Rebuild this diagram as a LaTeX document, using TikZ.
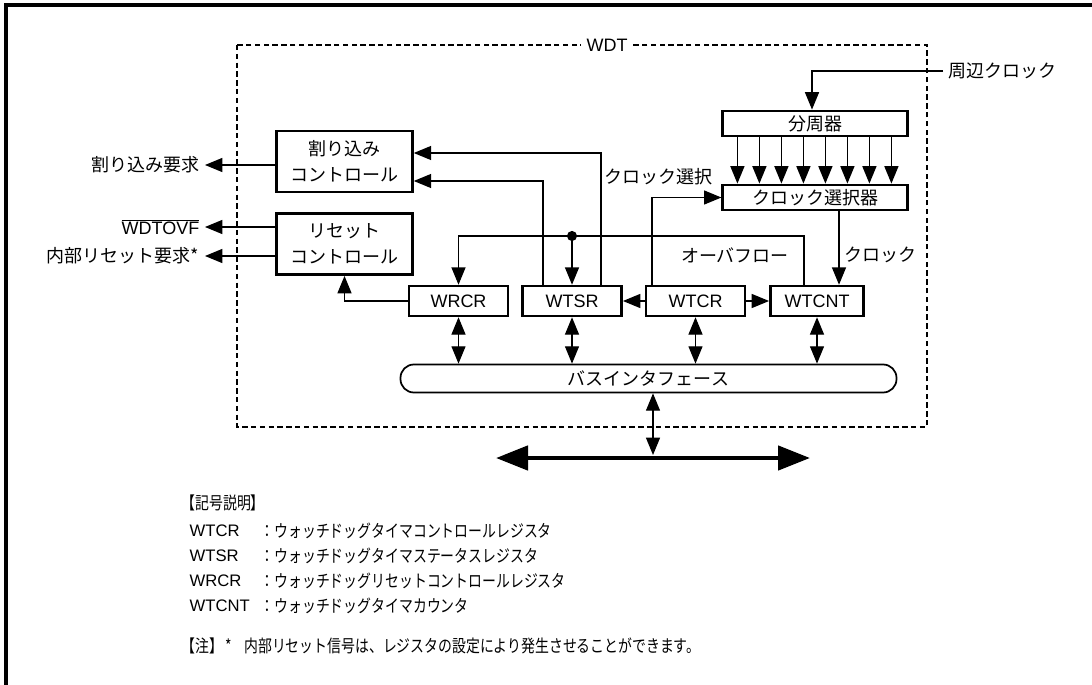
\documentclass[tikz,border=0pt]{standalone}
\usepackage{fontspec}
\setmainfont{Liberation Sans}
\newfontfamily\jp{Noto Sans CJK JP}
\newfontfamily\jpleg[FakeStretch=0.8]{Noto Sans CJK JP}
\usetikzlibrary{arrows.meta, calc}

\newcommand{\diagfont}{\fontsize{13.5}{19.5}\selectfont}
\newcommand{\legfont}{\fontsize{13}{15}\selectfont}

\tikzset{
  ctrlbox/.style={draw, line width=1.9pt, minimum width=102pt, minimum height=46pt,
    align=center, inner sep=0pt, font=\jp\diagfont},
  widebox/.style={draw, line width=1.9pt, minimum width=138.5pt, minimum height=19pt,
    inner sep=0pt, font=\jp\diagfont},
  regbox/.style={draw, line width=1.9pt, minimum width=74.5pt, minimum height=22.5pt,
    inner sep=0pt, font=\diagfont},
  busbox/.style={draw, line width=1.3pt, rounded corners=10pt, minimum width=372pt,
    minimum height=21pt, inner sep=0pt, font=\jp\diagfont},
  sig/.style={anchor=east, inner xsep=3.75pt, inner ysep=0pt, font=\jp\diagfont},
  lbl/.style={inner sep=0pt, font=\jp\diagfont},
  leghead/.style={anchor=west, inner sep=0pt, font=\jpleg\legfont},
  legkey/.style={anchor=west, inner sep=0pt, font=\fontsize{12.5}{14}\selectfont},
  legtext/.style={anchor=west, inner sep=0pt, font=\jpleg\legfont}
}

\begin{document}
\begin{tikzpicture}[x=0.75pt, y=-0.75pt, line width=0.9pt,
  >={Triangle[length=13pt, width=10.5pt]}]

\useasboundingbox (0,0) rectangle (1092,685);

% Frame
\draw[line width=2.5pt] (6,690) -- (6,5) -- (1095,5);

% WDT block
\draw[dash pattern=on 4pt off 2.6pt] (237,45) rectangle (927,427);
\node[fill=white, inner xsep=4pt, inner ysep=1pt, font=\diagfont] (wdt) at (607,45) {WDT};

% Control blocks
\node[ctrlbox] (intc) at (344.5,161.5) {割り込み\\コントロール};
\node[ctrlbox] (rstc) at (344.5,244) {リセット\\コントロール};
\node[widebox] (div) at (815,123.5) {分周器};
\node[widebox] (sel) at (815,197.5) {クロック選択器};

% Registers
\node[regbox] (wrcr) at (458.5,301) {WRCR};
\node[regbox] (wtsr) at (572,301) {WTSR};
\node[regbox] (wtcr) at (695.5,301) {WTCR};
\node[regbox, minimum width=70pt] (wtcnt) at (817,301) {WTCNT};
\node[busbox] (bus) at (648.5,378.5) {バスインタフェース};

% Signal labels
\node[sig] (irqo) at (205,165) {割り込み要求};
\node[sig, font=\diagfont] (ovfo) at (205,227) {$\overline{\mbox{WDTOVF}}$};
\node[sig] (rsto) at (205,256) {内部リセット要求*};
\node[lbl, anchor=west, inner xsep=3.75pt] (pclk) at (943,71) {周辺クロック};
\node[lbl] (cslbl) at (658,177) {クロック選択};
\node[lbl] (ovflbl) at (735,255) {オーバフロー};
\node[lbl] (clklbl) at (880,255) {クロック};

% Junctions
\coordinate (irqa) at (601,153);
\coordinate (irqb) at (543,181);
\coordinate (ovf) at (804,236);
\coordinate (csw) at (652,200);
\coordinate (clk) at (839,250);
\coordinate (pin) at (812,71);
\coordinate (ext) at (653,455);
\coordinate (extl) at (496,458);
\coordinate (extr) at (810,458);

% Outputs
\draw[->] (intc.west |- irqo.east) -- (irqo.east);
\draw[->] (rstc.west |- ovfo.east) -- (ovfo.east);
\draw[->] (rstc.west |- rsto.east) -- (rsto.east);

% Internal connections
\draw[->] (wtsr.north -| irqa) |- (intc.east |- irqa);
\draw[->] (wtsr.north -| irqb) |- (intc.east |- irqb);
\draw[->] (wtcnt.north -| ovf) |- (ovf -| wrcr.north) -- (wrcr.north);
\fill (ovf -| wtsr.north) circle (3.8pt);
\draw[->] (ovf -| wtsr.north) -- (wtsr.north);
\draw[->] (wtcr.north -| csw) |- (sel.west);
\draw[->] (sel.south -| clk) -- (wtcnt.north -| clk);
\draw[->] (wrcr.west) -| (rstc.south);
\draw[->] (wtcr.west) -- (wtsr.east);
\draw[->] (wtcr.east) -- (wtcnt.west);
\draw[->] (pclk.west) -| (div.north -| pin);
\foreach \i in {0,...,7}
  \draw[->] ($(div.south west)+(16+22*\i,0)$) -- ($(sel.north west)+(16+22*\i,0)$);

% Bus
\foreach \r in {wrcr,wtsr,wtcr,wtcnt}
  \draw[<->] (\r.south) -- (\r.south |- bus.north);
\draw[<->] (bus.south -| ext) -- (ext);
\draw[<->, >={Triangle[length=24pt, width=18pt]}, line width=3.5pt] (extl) -- (extr);

% Legend
\node[leghead] (lgnd) at (181,503) {【記号説明】};
\foreach \k/\d [count=\i] in {WTCR/ウォッチドッグタイマコントロールレジスタ,
    WTSR/ウォッチドッグタイマステータスレジスタ,
    WRCR/ウォッチドッグリセットコントロールレジスタ,
    WTCNT/ウォッチドッグタイマカウンタ} {
  \node[legkey] (key\i) at (189,506+25*\i) {\k};
  \node[legtext] (desc\i) at (260,506+25*\i) {：\d};
}
\node[legtext] (note) at (181,646) {【注】\hspace{2pt}*\hspace{9pt}内部リセット信号は、レジスタの設定により発生させることができます。};

\end{tikzpicture}
\end{document}
